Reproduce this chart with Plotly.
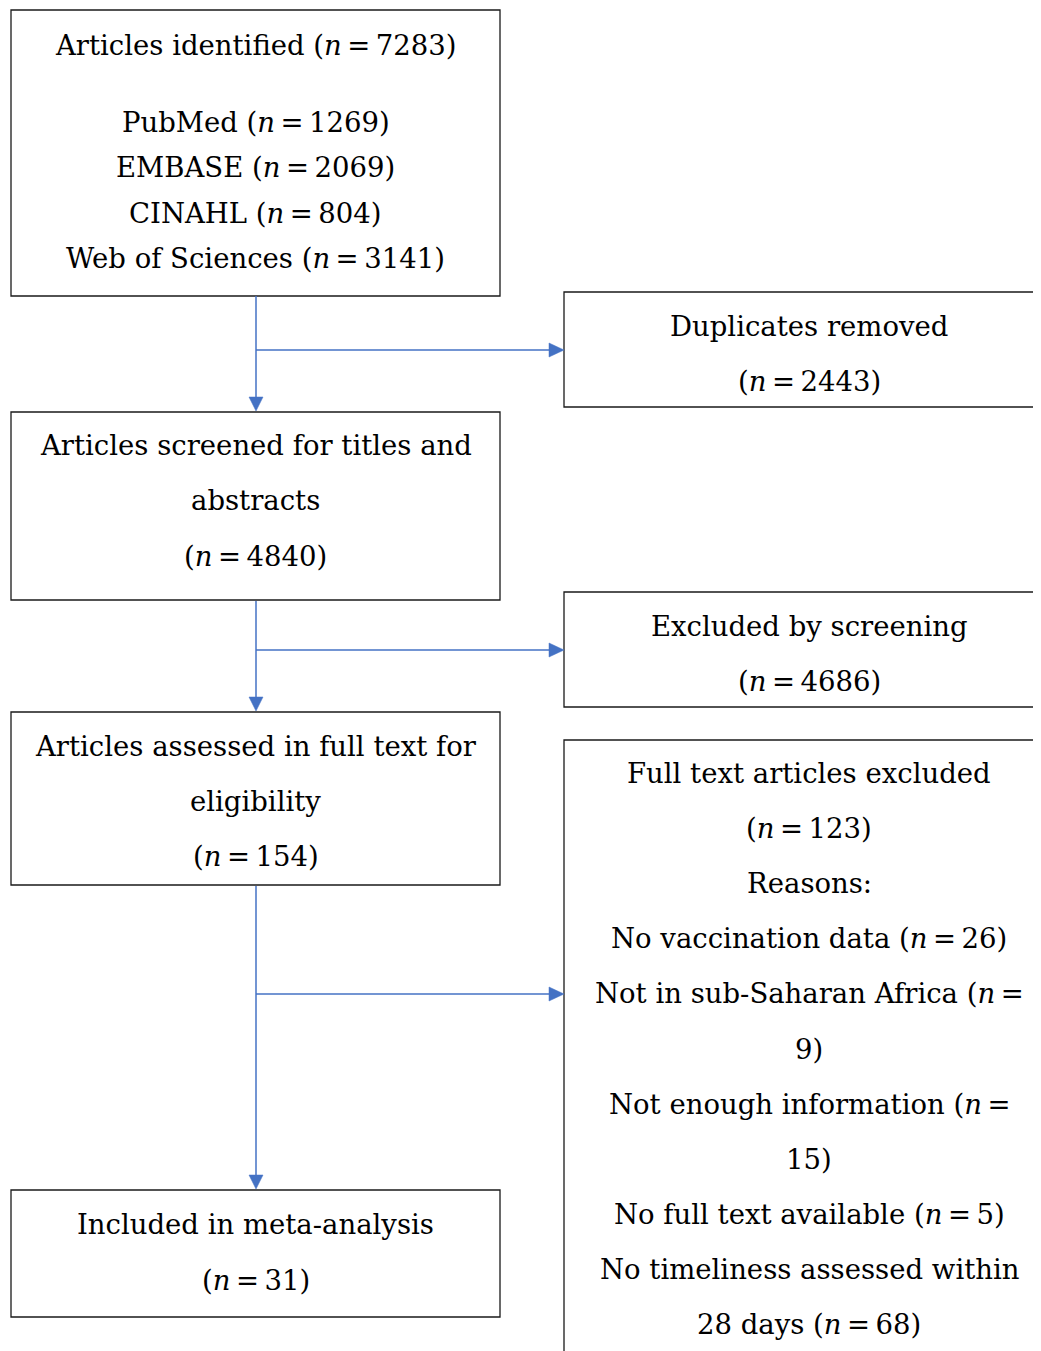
import plotly.graph_objects as go

# ---- data -------------------------------------------------------------
identified_total = 7283
sources = ["PubMed", "EMBASE", "CINAHL", "Web of Sciences"]
source_counts = [1269, 2069, 804, 3141]
duplicates_removed = 2443
screened = 4840
excluded_screening = 4686
fulltext_assessed = 154
fulltext_excluded = 123
reasons = [
    "No vaccination data",
    "Not in sub-Saharan Africa",
    "Not enough information",
    "No full text available",
    "No timeliness assessed within\n28 days",
]
reason_counts = [26, 9, 15, 5, 68]
reason_wrap_count = [False, True, True, False, False]
included = 31

# ---- layout (pixels, y downward) --------------------------------------
W, H = 1041, 1351
PAGE_OFFSET = 8  # body margin of the html page
LEFT_X = (11, 500)
RIGHT_X = (564, 1054)
FONT = dict(family="DejaVu Serif, serif", size=27.5, color="#000000")
ARROW = "#4472C4"
EQ = "\u2009=\u2009"


def n(v):
    return f"(<i>n</i>{EQ}{v})"


reason_lines = []
for name, cnt, wrap in zip(reasons, reason_counts, reason_wrap_count):
    parts = name.split("\n")
    if wrap:
        parts[-1] = f"{parts[-1]} (<i>n</i>{EQ.rstrip()}"
        parts.append(f"{cnt})")
    else:
        parts[-1] = f"{parts[-1]} {n(cnt)}"
    reason_lines.extend(parts)

boxes = [
    dict(x=LEFT_X, y=(10, 296),
         lines=[(45, f"Articles identified {n(identified_total)}")]
         + [(122 + 45.3 * i, f"{s} {n(c)}") for i, (s, c) in enumerate(zip(sources, source_counts))]),
    dict(x=RIGHT_X, y=(292, 407),
         lines=[(326, "Duplicates removed"), (381, n(duplicates_removed))]),
    dict(x=LEFT_X, y=(412, 600),
         lines=[(445, "Articles screened for titles and"), (500, "abstracts"), (556, n(screened))]),
    dict(x=RIGHT_X, y=(592, 707),
         lines=[(626, "Excluded by screening"), (681, n(excluded_screening))]),
    dict(x=LEFT_X, y=(712, 885),
         lines=[(746, "Articles assessed in full text for"), (801, "eligibility"), (856, n(fulltext_assessed))]),
    dict(x=RIGHT_X, y=(740, 1380),
         lines=[(773 + 55.1 * i, t) for i, t in enumerate(
             ["Full text articles excluded", n(fulltext_excluded), "Reasons:"] + reason_lines)]),
    dict(x=LEFT_X, y=(1190, 1317),
         lines=[(1224, "Included in meta-analysis"), (1280, n(included))]),
]

# connectors: (y_start, y_end, y_branch) along the spine
spine_x = 256
connectors = [(296, 411, 350), (601, 711, 650), (886, 1189, 994)]

fig = go.Figure()
shapes = []
annotations = []

for b in boxes:
    x0, x1 = b["x"]
    y0, y1 = b["y"]
    shapes.append(dict(type="rect", xref="x", yref="y", x0=x0, x1=x1, y0=y0, y1=y1,
                       line=dict(color="#1a1a1a", width=1.3), fillcolor="rgba(0,0,0,0)"))
    cx = (x0 + x1) / 2
    for ty, txt in b["lines"]:
        annotations.append(dict(x=cx, y=ty, xref="x", yref="y", text=txt, showarrow=False,
                                font=FONT, xanchor="center", yanchor="middle"))


def tri_down(x, ytip, s=7, h=14):
    return f"M {x - s},{ytip - h} L {x + s},{ytip - h} L {x},{ytip} Z"


def tri_right(xtip, y, s=7, h=15):
    return f"M {xtip - h},{y - s} L {xtip - h},{y + s} L {xtip},{y} Z"


for y_start, y_end, y_branch in connectors:
    shapes.append(dict(type="line", xref="x", yref="y", x0=spine_x, x1=spine_x,
                       y0=y_start, y1=y_end - 12, line=dict(color=ARROW, width=1.5)))
    shapes.append(dict(type="path", xref="x", yref="y", path=tri_down(spine_x, y_end),
                       fillcolor=ARROW, line=dict(color=ARROW, width=0.5)))
    shapes.append(dict(type="line", xref="x", yref="y", x0=spine_x, x1=RIGHT_X[0] - 12,
                       y0=y_branch, y1=y_branch, line=dict(color=ARROW, width=1.5)))
    shapes.append(dict(type="path", xref="x", yref="y", path=tri_right(RIGHT_X[0], y_branch),
                       fillcolor=ARROW, line=dict(color=ARROW, width=0.5)))

fig.update_layout(
    width=W,
    height=H,
    margin=dict(l=0, r=0, t=0, b=0),
    paper_bgcolor="#ffffff",
    plot_bgcolor="#ffffff",
    shapes=shapes,
    annotations=annotations,
    showlegend=False,
    xaxis=dict(range=[PAGE_OFFSET, W + PAGE_OFFSET], visible=False, fixedrange=True),
    yaxis=dict(range=[H + PAGE_OFFSET, PAGE_OFFSET], visible=False, fixedrange=True),
)

fig.write_html("out.html")
